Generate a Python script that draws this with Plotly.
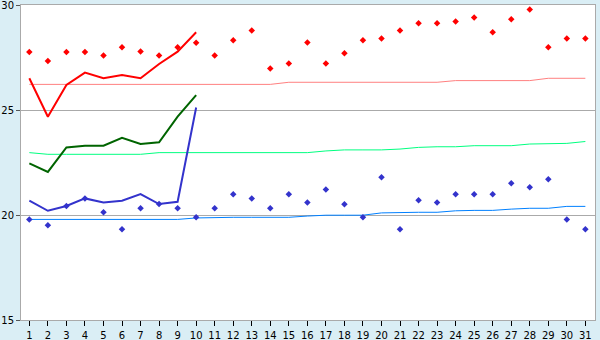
import plotly.graph_objects as go

days = list(range(1, 32))
day_labels = [str(d) for d in days]

# observed maxima (points) and minima (points)
max_points = [27.76, 27.33, 27.76, 27.76, 27.6, 27.99, 27.78, 27.6, 27.99, 28.2,
              27.6, 28.32, 28.79, 26.98, 27.22, 28.22, 27.22, 27.70, 28.32, 28.41,
              28.79, 29.13, 29.13, 29.22, 29.41, 28.70, 29.32, 29.79, 27.99, 28.41, 28.41]
min_points = [19.79, 19.51, 20.43, 20.79, 20.13, 19.32, 20.32, 20.52, 20.32, 19.89,
              20.32, 20.99, 20.79, 20.32, 20.99, 20.60, 21.22, 20.51, 19.89, 21.80,
              19.32, 20.70, 20.60, 20.99, 20.99, 20.99, 21.51, 21.32, 21.70, 19.79, 19.32]

# forecast lines (days 1-10)
line_days = list(range(1, 11))
max_line = [26.51, 24.68, 26.19, 26.78, 26.51, 26.67, 26.51, 27.19, 27.78, 28.70]
mean_line = [22.46, 22.05, 23.22, 23.30, 23.30, 23.68, 23.38, 23.46, 24.68, 25.71]
min_line = [20.68, 20.20, 20.43, 20.79, 20.60, 20.68, 21.00, 20.52, 20.63, 25.12]

# normals
max_norm = [26.22] * 14 + [26.32] * 9 + [26.40] * 5 + [26.51] * 3
mean_norm = [22.97, 22.89, 22.89, 22.89, 22.89, 22.89, 22.89, 22.97, 22.97, 22.97,
             22.97, 22.97, 22.97, 22.97, 22.97, 22.97, 23.05, 23.10, 23.10, 23.10,
             23.14, 23.22, 23.25, 23.25, 23.30, 23.30, 23.30, 23.38, 23.41, 23.41, 23.50]
min_norm = [19.79] * 9 + [19.86] + [19.89] * 5 + [19.95] + [19.99] * 3 + [20.10] + \
           [20.13] * 3 + [20.20] + [20.22] * 2 + [20.28] + [20.32] * 2 + [20.41] * 2

fig = go.Figure()
fig.add_trace(go.Scatter(x=days, y=max_norm, mode="lines", line=dict(color="#FF8080", width=1)))
fig.add_trace(go.Scatter(x=days, y=mean_norm, mode="lines", line=dict(color="#00FF80", width=1)))
fig.add_trace(go.Scatter(x=days, y=min_norm, mode="lines", line=dict(color="#0080FF", width=1)))
fig.add_trace(go.Scatter(x=line_days, y=max_line, mode="lines", line=dict(color="#FF0000", width=2)))
fig.add_trace(go.Scatter(x=line_days, y=mean_line, mode="lines", line=dict(color="#006400", width=2)))
fig.add_trace(go.Scatter(x=line_days, y=min_line, mode="lines", line=dict(color="#3333CC", width=2)))
fig.add_trace(go.Scatter(x=days, y=max_points, mode="markers",
                         marker=dict(symbol="diamond", size=5, color="#FF0000")))
fig.add_trace(go.Scatter(x=days, y=min_points, mode="markers",
                         marker=dict(symbol="diamond", size=5, color="#3333CC")))

fig.update_layout(
    width=600, height=340,
    margin=dict(l=21, r=5, t=5, b=20, autoexpand=False),
    paper_bgcolor="#DAEEF5",
    plot_bgcolor="#FFFFFF",
    showlegend=False,
    font=dict(family="DejaVu Sans", size=10, color="#000000"),
)
fig.update_xaxes(
    range=[0.55, 31.52], tickmode="array", tickvals=days, ticktext=day_labels,
    ticks="outside", ticklen=5, tickcolor="#000000", showgrid=False,
    showline=True, linecolor="#AAAAAA", linewidth=1, mirror=True, zeroline=False,
    tickfont=dict(size=10), ticklabeloverflow="allow", automargin=False,
    ticklabelstandoff=1,
)
fig.update_yaxes(
    range=[15, 30], tickvals=[15, 20, 25, 30],
    ticks="outside", ticklen=4, tickcolor="#555555",
    showgrid=True, gridcolor="#AAAAAA", gridwidth=1,
    showline=True, linecolor="#AAAAAA", linewidth=1, mirror=True, zeroline=False,
    tickfont=dict(size=10), ticklabeloverflow="allow", automargin=False,
)

fig.write_html("out.html")
